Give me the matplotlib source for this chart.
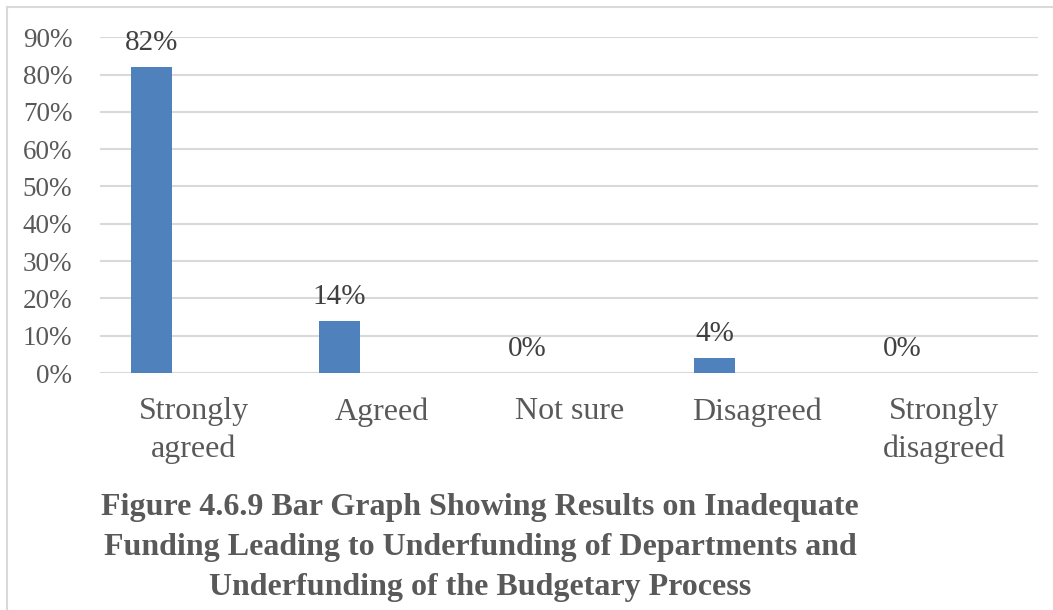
import numpy as np
import matplotlib.pyplot as plt
from matplotlib.lines import Line2D
from matplotlib.ticker import FuncFormatter

plt.rcParams['font.family'] = ['Liberation Serif', 'DejaVu Serif']

# survey responses
categories = ['Strongly\nagreed', 'Agreed', 'Not sure', 'Disagreed', 'Strongly\ndisagreed']
percent = [82, 14, 0, 4, 0]
value_labels = ['82%', '14%', '0%', '4%', '0%']
yticks = [0, 10, 20, 30, 40, 50, 60, 70, 80, 90]

fig = plt.figure(figsize=(10.53, 6.10), dpi=100)
ax = fig.add_axes([0.095, 0.3885, 0.891, 0.5505])

x = np.arange(len(categories))
bar_w = 0.22
offset = -0.225
ax.bar(x + offset, percent, width=bar_w, color='#4F81BD', zorder=3)

for xi, v, lab in zip(x, percent, value_labels):
    ax.annotate(lab, (xi + offset, v), xytext=(0, 8), textcoords='offset points',
                ha='center', va='bottom', fontsize=21, color='#404040')

ax.set_xlim(-0.5, len(categories) - 0.5)
ax.set_ylim(0, 90)
ax.set_yticks(yticks)
ax.yaxis.set_major_formatter(FuncFormatter(lambda v, p: f'{v:.0f}%'))
ax.set_xticks(x)
ax.set_xticklabels(categories, linespacing=1.38)
ax.tick_params(axis='y', length=0, labelsize=19.5, labelcolor='#595959', pad=20)
ax.tick_params(axis='x', length=0, labelsize=23, labelcolor='#595959', pad=17.5)
ax.grid(axis='y', color='#D9D9D9', linewidth=1.5, zorder=0)
for s in ax.spines.values():
    s.set_visible(False)

# chart frame edges
fig.add_artist(Line2D([0.0066, 1.0], [0.9885, 0.9885], color='#D9D9D9', lw=1.5))
fig.add_artist(Line2D([0.0066, 0.0066], [0.0, 0.9885], color='#D9D9D9', lw=1.5))

fig.text(0.456, 0.103,
         'Figure 4.6.9 Bar Graph Showing Results on Inadequate\n'
         'Funding Leading to Underfunding of Departments and\n'
         'Underfunding of the Budgetary Process',
         ha='center', va='center', fontsize=23, fontweight='bold',
         color='#595959', linespacing=1.5)

fig.savefig('out.png', dpi=100)
